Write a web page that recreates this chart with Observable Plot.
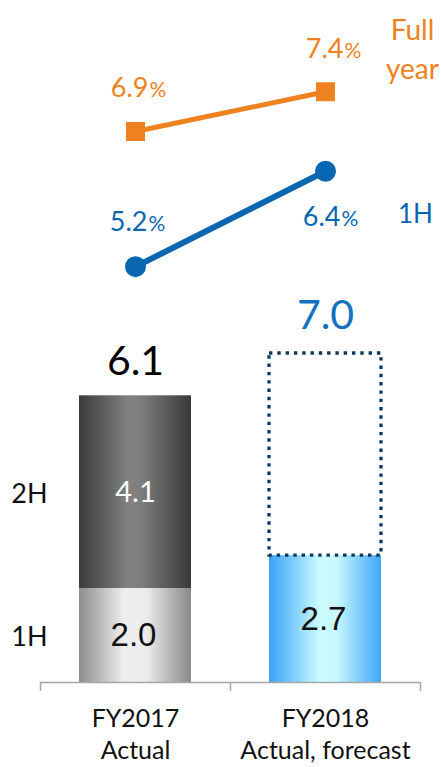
<!DOCTYPE html>
<html><head><meta charset="utf-8">
<script src="https://cdn.jsdelivr.net/npm/d3@7"></script>
<script src="https://cdn.jsdelivr.net/npm/@observablehq/plot@0.6"></script>
<style>body{margin:0;background:#fff} #chart svg{display:block}</style>
</head><body><div id="chart"></div>
<script>
// ---- data ----
const years = ["FY2017", "FY2018"];
const yearNotes = ["Actual", "Actual, forecast"];
const sales1H = [2.0, 2.7];
const sales2H = [4.1, null];          // FY2018 2H not yet reported
const salesFull = [6.1, 7.0];         // FY2018 full year = forecast
const marginFullYear = [6.9, 7.4];    // %
const margin1H = [5.2, 6.4];          // %
const seriesNames = ["Full\nyear", "1H"];
const partNames = ["1H", "2H"];

// ---- style ----
const ORANGE = "#ef8220", BLUE = "#0867b0", NAVY = "#0c3a5f", GRAY = "#a6a6a6";
const CAL = "Lato, 'Open Sans', sans-serif", ARI = "'Liberation Sans', Arial, sans-serif";
const idx = years.map((_, i) => i);
const cx = i => i + 0.5;
const xScale = {type: "linear", domain: [0, 2], axis: null};
const common = {width: 441, marginLeft: 40, marginRight: 21, marginTop: 0};

// per-point label layout (dx of number end, dy)
const orangeLab = [{dx: 13, dy: -43}, {dx: 18, dy: -42}];
const blueLab = [{dx: 12, dy: -44}, {dx: 15, dy: 46}];

function pctLabels(values, layout, color) {
  return idx.flatMap(i => [
    Plot.text([i], {x: cx, y: j => values[j], text: j => values[j].toFixed(1), textAnchor: "end",
      dx: layout[i].dx, dy: layout[i].dy, fontSize: 27, fill: color, fontFamily: CAL}),
    Plot.text([i], {x: cx, y: j => values[j], text: () => "%", textAnchor: "start",
      dx: layout[i].dx + 1, dy: layout[i].dy + 2, fontSize: 21, fill: color, fontFamily: CAL})
  ]);
}

const topPlot = Plot.plot({
  ...common, height: 290, marginBottom: 0,
  x: xScale, y: {domain: [4.9, 8.548], axis: null},
  style: {fontFamily: CAL, background: "white", overflow: "visible"},
  marks: [
    Plot.line(idx, {x: cx, y: i => marginFullYear[i], stroke: ORANGE, strokeWidth: 5}),
    Plot.dot(idx, {x: cx, y: i => marginFullYear[i], symbol: "square", r: 10.7, fill: ORANGE, stroke: "none"}),
    Plot.line(idx, {x: cx, y: i => margin1H[i], stroke: BLUE, strokeWidth: 6}),
    Plot.dot(idx, {x: cx, y: i => margin1H[i], symbol: "circle", r: 10.5, fill: BLUE, stroke: "none"}),
    ...pctLabels(marginFullYear, orangeLab, ORANGE),
    ...pctLabels(margin1H, blueLab, BLUE),
    Plot.text([idx.length - 1], {x: cx, y: i => marginFullYear[i], text: () => seriesNames[0],
      textAnchor: "middle", dx: 87, dy: -45, fontSize: 28, lineHeight: 1.39, fill: ORANGE, fontFamily: CAL}),
    Plot.text([idx.length - 1], {x: cx, y: i => margin1H[i], text: () => seriesNames[1],
      textAnchor: "middle", dx: 90, dy: 43, fontSize: 26, fill: BLUE, fontFamily: CAL})
  ]
});

// stacked segments
const segs = [];
idx.forEach(i => {
  segs.push({i, part: partNames[0], y1: 0, y2: sales1H[i], v: sales1H[i]});
  if (sales2H[i] != null) segs.push({i, part: partNames[1], y1: sales1H[i], y2: sales1H[i] + sales2H[i], v: sales2H[i]});
});
const fills = {"0-1H": "url(#gLight)", "0-2H": "url(#gDark)", "1-1H": "url(#gBlue)"};
const forecast = idx.filter(i => sales2H[i] == null);
const actual = idx.filter(i => sales2H[i] != null);

const botPlot = Plot.plot({
  ...common, height: 477, marginBottom: 85,
  x: xScale, y: {domain: [0, 392 / 47], axis: null},
  color: {type: "identity"},
  style: {fontFamily: CAL, background: "white", overflow: "visible"},
  marks: [
    Plot.rect(segs, {x1: d => d.i, x2: d => d.i + 1, y1: "y1", y2: "y2", fill: d => fills[d.i + "-" + d.part],
      insetLeft: 39, insetRight: 39}),
    Plot.rect(forecast, {x1: i => i, x2: i => i + 1, y1: i => sales1H[i], y2: i => salesFull[i],
      fill: "none", stroke: NAVY, strokeWidth: 3.3, strokeDasharray: "3.4 4.9", insetLeft: 39, insetRight: 39}),
    Plot.ruleY([0], {stroke: GRAY, strokeWidth: 1.5}),
    Plot.ruleX([0, 1, 2], {y1: 0, y2: -0.19, stroke: GRAY, strokeWidth: 1.5}),
    // segment values
    Plot.text(segs.filter(d => d.part === "2H"), {x: d => d.i + 0.5, y: d => (d.y1 + d.y2) / 2, text: d => d.v.toFixed(1),
      fill: "white", fontSize: 29, fontFamily: CAL, dy: 1}),
    Plot.text(segs.filter(d => d.part === "1H"), {x: d => d.i + 0.5, y: d => (d.y1 + d.y2) / 2, text: d => d.v.toFixed(1),
      fill: "#111", fontSize: 33, fontFamily: ARI, dx: -2}),
    // totals
    Plot.text(actual, {x: cx, y: i => salesFull[i], text: i => salesFull[i].toFixed(1), fill: "#000",
      fontSize: 41, fontFamily: CAL, dy: -34}),
    Plot.text(forecast, {x: cx, y: i => salesFull[i], text: i => salesFull[i].toFixed(1), fill: "#1570bd",
      fontSize: 41, fontFamily: CAL, dy: -37.5}),
    // part names on left
    Plot.text(segs.filter(d => d.i === 0), {x: 0, y: d => (d.y1 + d.y2) / 2, text: "part", fill: "#111",
      fontSize: 27, fontFamily: CAL, dx: -11, dy: 2}),
    // x labels
    Plot.text(idx, {x: cx, y: 0, text: i => years[i] + "\n" + yearNotes[i], lineAnchor: "top", dy: 21,
      lineHeight: 1.3, fontSize: 25, fill: "#111", fontFamily: CAL})
  ]
});

const defs = d3.select(botPlot).insert("defs", ":first-child");
function grad(id, stops) {
  const g = defs.append("linearGradient").attr("id", id).attr("x1", 0).attr("x2", 1).attr("y1", 0).attr("y2", 0);
  stops.forEach(([o, c]) => g.append("stop").attr("offset", o).attr("stop-color", c));
}
grad("gLight", [[0, "#8c8c8c"], [0.4, "#eeeeee"], [0.6, "#ececec"], [1, "#888888"]]);
grad("gDark", [[0, "#3b3b3b"], [0.45, "#828282"], [0.55, "#7e7e7e"], [1, "#393939"]]);
grad("gBlue", [[0, "#37a3f6"], [0.45, "#cbfbff"], [0.6, "#c8f8ff"], [1, "#3ea6f8"]]);

document.getElementById("chart").append(topPlot, botPlot);
</script></body></html>
